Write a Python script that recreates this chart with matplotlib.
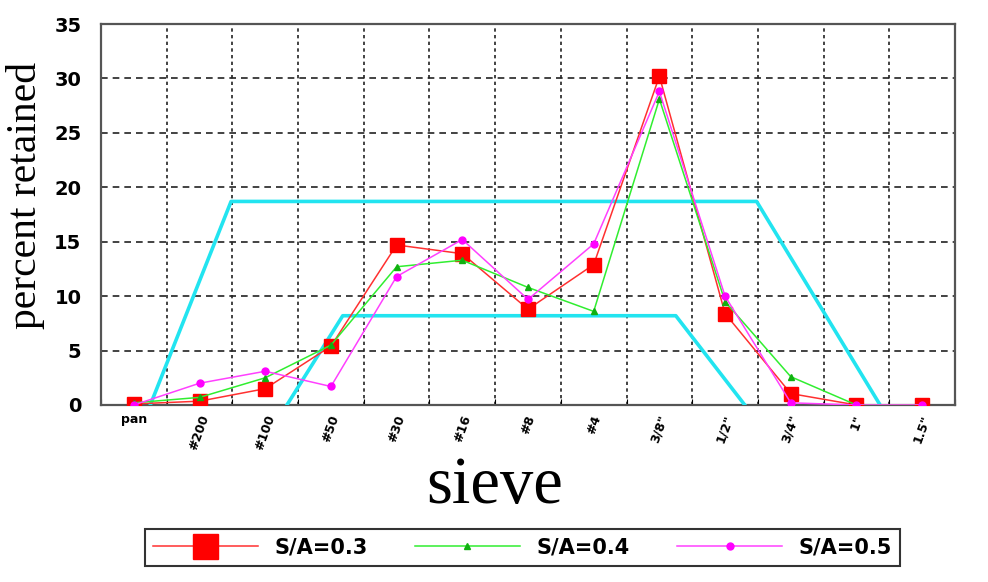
import numpy as np
from matplotlib import pyplot as plt

# categorias (peneiras)
peneiras = ['pan', '#200', '#100', '#50', '#30', '#16', '#8', '#4',
            '3/8"', '1/2"', '3/4"', '1"', '1.5"']

sa_03 = [0.1, 0.35, 1.5, 5.4, 14.7, 13.9, 8.8, 12.9, 30.2, 8.4, 1.05, 0.0, 0.0]
sa_04 = [0.2, 0.7, 2.5, 5.5, 12.7, 13.3, 10.8, 8.6, 28.1, 9.5, 2.6, 0.0, 0.0]
sa_05 = [0.0, 2.0, 3.1, 1.7, 11.8, 15.2, 9.7, 14.8, 28.8, 10.0, 0.2, 0.0, 0.0]

# limites (em unidades de categoria)
lim_sup_x = [0.75, 1.98, 9.98, 11.86]
lim_sup_y = [0.0, 18.7, 18.7, 0.0]
lim_inf_x = [2.83, 3.68, 8.75, 9.80]
lim_inf_y = [0.0, 8.2, 8.2, 0.0]

fonte_tick = ['DejaVu Sans']

fig = plt.figure(figsize=(9.88, 5.82), dpi=100)
ax = fig.add_axes([101 / 988, 1 - 405 / 582, 854 / 988, 381 / 582])

x = np.arange(len(peneiras)) + 0.5

ax.plot(lim_sup_x, lim_sup_y, color='#22e4f0', lw=2.6, zorder=3)
ax.plot(lim_inf_x, lim_inf_y, color='#22e4f0', lw=2.6, zorder=3)
l1, = ax.plot(x, sa_03, color='#ff3030', lw=1.1, marker='s', ms=9.5,
              mfc='#ff0000', mec='#ff0000', label='S/A=0.3', zorder=4)
l2, = ax.plot(x, sa_04, color='#30ee30', lw=1.1, marker='^', ms=4.5,
              mfc='#10b010', mec='#10b010', label='S/A=0.4', zorder=4)
l3, = ax.plot(x, sa_05, color='#ff40ff', lw=1.1, marker='o', ms=5,
              mfc='#ff00ff', mec='#ff00ff', label='S/A=0.5', zorder=5)

ax.set_xlim(0, len(peneiras))
ax.set_ylim(0, 35)
ax.set_xticks(np.arange(len(peneiras) + 1))
ax.set_xticklabels([])
ax.set_xticks(x, minor=True)
ax.set_xticklabels(peneiras, minor=True, fontsize=9, fontweight='bold',
                   family=fonte_tick)
for i, t in enumerate(ax.get_xticklabels(minor=True)):
    if i > 0:
        t.set_rotation(70)
        t.set_va('top')
        t.set_ha('center')
ax.tick_params(axis='x', which='minor', length=0, pad=6)
ax.tick_params(axis='x', which='major', direction='in', length=4)
ax.set_yticks(np.arange(0, 36, 5))
ax.set_yticklabels([str(v) for v in range(0, 36, 5)], fontsize=14,
                   fontweight='bold', family=fonte_tick)
ax.tick_params(axis='y', length=0, pad=14)

ax.grid(True, axis='x', which='major', color='#222222', ls=(0, (2, 2)), lw=1.2)
ax.grid(True, axis='y', color='#222222', ls=(0, (4, 3)), lw=1.2)
for s in ax.spines.values():
    s.set_color('#555555')
    s.set_linewidth(1.6)

ax.set_ylabel('percent retained', fontsize=30, family='Liberation Serif')
ax.yaxis.set_label_coords(-0.066, 0.55)
ax.set_xlabel('sieve', fontsize=48, family='Liberation Serif')
ax.xaxis.set_label_coords(0.461, -0.135)

leg = fig.legend(handles=[l1, l2, l3], loc='lower left',
                 bbox_to_anchor=(145 / 988, 1 - 566 / 582, 755 / 988, 53 / 582),
                 mode='expand', ncol=3, frameon=True, fancybox=False,
                 edgecolor='black', handlelength=5, borderaxespad=0,
                 prop={'family': fonte_tick, 'weight': 'bold', 'size': 15})
leg.get_frame().set_linewidth(1.5)
leg.legend_handles[0].set_markersize(18)

fig.savefig('out.png', dpi=100)
